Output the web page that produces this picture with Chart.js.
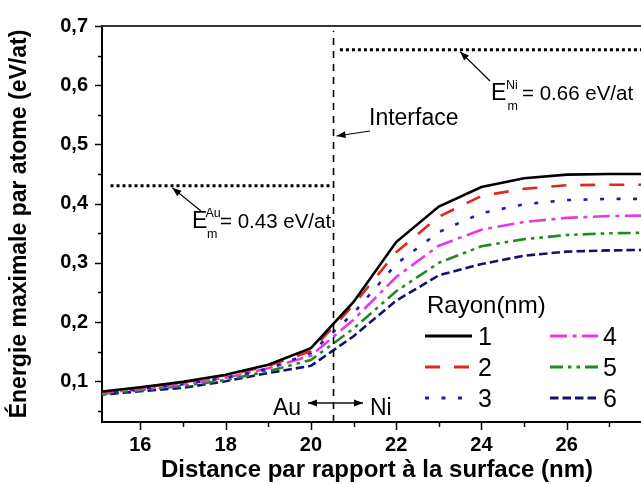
<!DOCTYPE html>
<html>
<head>
<meta charset="utf-8">
<script src="https://cdn.jsdelivr.net/npm/chart.js@4.4.1/dist/chart.umd.min.js"></script>
<style>
  html, body { margin: 0; padding: 0; background: #fff; overflow: hidden; }
</style>
</head>
<body>
<canvas id="energie" width="660" height="484"></canvas>
<script>
// distance from the surface (nm)
const distances = [15, 16, 17, 18, 19, 20, 21, 22, 23, 24, 25, 26, 27, 28];

// maximum energy per atom (eV/at) for each cluster radius
const rayon1 = [0.082, 0.090, 0.099, 0.111, 0.128, 0.156, 0.234, 0.335, 0.395, 0.428, 0.443, 0.449, 0.450, 0.450];
const rayon2 = [0.081, 0.089, 0.098, 0.110, 0.126, 0.151, 0.229, 0.318, 0.378, 0.413, 0.425, 0.431, 0.432, 0.432];
const rayon3 = [0.079, 0.087, 0.095, 0.106, 0.121, 0.148, 0.215, 0.298, 0.352, 0.384, 0.399, 0.406, 0.408, 0.408];
const rayon4 = [0.079, 0.087, 0.095, 0.106, 0.122, 0.143, 0.204, 0.276, 0.329, 0.356, 0.369, 0.376, 0.379, 0.380];
const rayon5 = [0.078, 0.085, 0.092, 0.102, 0.117, 0.136, 0.189, 0.252, 0.300, 0.328, 0.340, 0.347, 0.350, 0.351];
const rayon6 = [0.077, 0.083, 0.089, 0.100, 0.114, 0.126, 0.176, 0.236, 0.279, 0.298, 0.312, 0.319, 0.321, 0.322];
const rayonLabels = ["1", "2", "3", "4", "5", "6"];

// reference levels and interface position
const interfaceX = 20.53;
const energieAu = 0.43;
const energieNi = 0.66;
const auSpan = [15.3, 20.45];
const niSpan = [20.68, 28];

const xTicks = [16, 18, 20, 22, 24, 26];
const yTicks = [0.1, 0.2, 0.3, 0.4, 0.5, 0.6, 0.7];

const FONT = "'Liberation Sans', Arial, sans-serif";

const styles = [
  { color: "#000000", dash: [] },
  { color: "#e0261f", dash: [15, 14] },
  { color: "#1c1cb4", dash: [4, 12.5] },
  { color: "#e33be3", dash: [17, 5.5, 4, 5.5] },
  { color: "#228a22", dash: [13, 5, 3.5, 5, 3.5, 5] },
  { color: "#12126e", dash: [8.5, 4] },
];

const series = [rayon1, rayon2, rayon3, rayon4, rayon5, rayon6];
const curveSets = series.map((vals, i) => ({
  label: rayonLabels[i],
  data: distances.map((d, j) => ({ x: d, y: vals[j] })),
  borderColor: styles[i].color,
  borderDash: styles[i].dash,
  borderWidth: 2.6,
  pointRadius: 0,
  tension: 0,
  fill: false,
}));

const refSets = [
  {
    label: "Au",
    data: [{ x: auSpan[0], y: energieAu }, { x: auSpan[1], y: energieAu }],
    borderColor: "#000", borderDash: [3, 3], borderWidth: 3, pointRadius: 0,
  },
  {
    label: "Ni",
    data: [{ x: niSpan[0], y: energieNi }, { x: niSpan[1], y: energieNi }],
    borderColor: "#000", borderDash: [3, 3], borderWidth: 3, pointRadius: 0,
  },
  {
    label: "Interface",
    data: [{ x: interfaceX, y: 0.0312 }, { x: interfaceX, y: 0.692 }],
    borderColor: "#000", borderDash: [7, 6], borderWidth: 1.6, pointRadius: 0,
  },
];

function arrow(ctx, x1, y1, x2, y2, head) {
  ctx.beginPath();
  ctx.moveTo(x1, y1);
  ctx.lineTo(x2, y2);
  ctx.stroke();
  const a = Math.atan2(y2 - y1, x2 - x1);
  const w = head * 0.38;
  ctx.beginPath();
  ctx.moveTo(x2, y2);
  ctx.lineTo(x2 - head * Math.cos(a) + w * Math.sin(a), y2 - head * Math.sin(a) - w * Math.cos(a));
  ctx.lineTo(x2 - head * Math.cos(a) - w * Math.sin(a), y2 - head * Math.sin(a) + w * Math.cos(a));
  ctx.closePath();
  ctx.fill();
}

function energyLabel(ctx, left, base, sup, supDx, restDx, rest) {
  ctx.font = "23px " + FONT;
  ctx.fillText("E", left, base);
  ctx.font = "12.5px " + FONT;
  ctx.fillText(sup, left + supDx, base - 11.5);
  ctx.fillText("m", left + supDx + 1.5, base + 10);
  ctx.font = "20.5px " + FONT;
  ctx.fillText(rest, left + restDx, base);
}

const decorations = {
  id: "decorations",
  afterDraw(chart) {
    const { ctx, chartArea: area, scales: { x, y } } = chart;
    ctx.save();
    ctx.strokeStyle = "#000";
    ctx.fillStyle = "#000";

    // frame top
    ctx.lineWidth = 2;
    ctx.strokeStyle = "#333";
    ctx.beginPath();
    ctx.moveTo(area.left, area.top);
    ctx.lineTo(area.right + 20, area.top);
    ctx.stroke();

    // major / minor ticks
    ctx.strokeStyle = "#000";
    ctx.lineWidth = 1.5;
    for (let v = 16; v <= 28; v++) {
      const px = Math.round(x.getPixelForValue(v)) + 0.5;
      const len = v % 2 === 0 ? 8 : 5;
      ctx.beginPath();
      ctx.moveTo(px, area.bottom);
      ctx.lineTo(px, area.bottom + len);
      ctx.stroke();
    }
    for (let i = 1; i <= 14; i++) {
      const v = i * 0.05;
      const py = Math.round(y.getPixelForValue(v)) + 0.5;
      const len = i % 2 === 0 ? 7 : 4;
      ctx.beginPath();
      ctx.moveTo(area.left, py);
      ctx.lineTo(area.left - len, py);
      ctx.stroke();
    }

    // interface label
    ctx.lineWidth = 1.2;
    ctx.font = "23px " + FONT;
    ctx.textBaseline = "alphabetic";
    ctx.fillText("Interface", 369, 125);
    arrow(ctx, 370, 131, x.getPixelForValue(interfaceX) + 3, 136, 9);

    // bulk energy levels
    const auTip = [x.getPixelForValue(16.75), y.getPixelForValue(energieAu) + 2];
    arrow(ctx, 201, 211, auTip[0], auTip[1], 9);
    energyLabel(ctx, 192, 228, "Au", 13.5, 28, "= 0.43 eV/at");

    const niTip = [x.getPixelForValue(23.5), y.getPixelForValue(energieNi) + 2];
    arrow(ctx, 490, 81, niTip[0], niTip[1], 9);
    energyLabel(ctx, 491, 100, "Ni", 15, 31, "= 0.66 eV/at");

    // Au <-> Ni
    ctx.font = "23px " + FONT;
    ctx.fillText("Au", 273, 415);
    ctx.fillText("Ni", 370, 415);
    ctx.lineWidth = 1.4;
    const ix = x.getPixelForValue(interfaceX);
    arrow(ctx, ix, 403, 308, 403, 9);
    arrow(ctx, ix, 403, 363, 403, 9);

    // legend
    ctx.font = "24px " + FONT;
    ctx.fillText("Rayon(nm)", 427, 313);
    const cols = [[425, 472, 478], [550, 598, 603]];
    const rows = [336, 367, 398];
    curveSets.forEach((ds, i) => {
      const c = cols[Math.floor(i / 3)];
      const r = rows[i % 3];
      ctx.save();
      ctx.strokeStyle = ds.borderColor;
      ctx.lineWidth = 3;
      ctx.setLineDash(ds.borderDash);
      ctx.beginPath();
      ctx.moveTo(c[0], r);
      ctx.lineTo(c[1], r);
      ctx.stroke();
      ctx.restore();
      ctx.font = "25px " + FONT;
      ctx.fillText(ds.label, c[2], r + 9);
    });

    ctx.restore();
  },
};

new Chart(document.getElementById("energie"), {
  type: "line",
  data: { datasets: [...refSets, ...curveSets] },
  plugins: [decorations],
  options: {
    responsive: false,
    animation: false,
    layout: { padding: { left: 0, top: 21, right: 8, bottom: 0 } },
    plugins: { legend: { display: false }, tooltip: { enabled: false } },
    scales: {
      x: {
        type: "linear",
        min: 15.1,
        max: 28,
        afterFit: (s) => { s.height = 62; },
        afterBuildTicks: (s) => { s.ticks = xTicks.map((v) => ({ value: v })); },
        grid: { drawOnChartArea: false, drawTicks: false },
        border: { color: "#000", width: 2 },
        ticks: {
          padding: 11,
          color: "#000",
          font: { family: FONT, size: 20, weight: "bold" },
        },
        title: {
          display: true,
          text: "Distance par rapport à la surface (nm)",
          color: "#000",
          padding: 0,
          font: { family: FONT, size: 24, weight: "bold", lineHeight: 1.1 },
        },
      },
      y: {
        type: "linear",
        min: 0.0312,
        max: 0.7,
        afterFit: (s) => { s.width = 102; },
        afterBuildTicks: (s) => { s.ticks = yTicks.map((v) => ({ value: v })); },
        grid: { drawOnChartArea: false, drawTicks: false },
        border: { color: "#000", width: 2 },
        ticks: {
          padding: 14,
          color: "#000",
          font: { family: FONT, size: 20, weight: "bold" },
          callback: (v) => v.toFixed(1).replace(".", ","),
        },
        title: {
          display: true,
          text: "Énergie maximale par atome (eV/at)",
          color: "#000",
          padding: { top: 7, bottom: 0 },
          font: { family: FONT, size: 23, weight: "bold", lineHeight: 1.1 },
        },
      },
    },
  },
});
</script>
</body>
</html>
